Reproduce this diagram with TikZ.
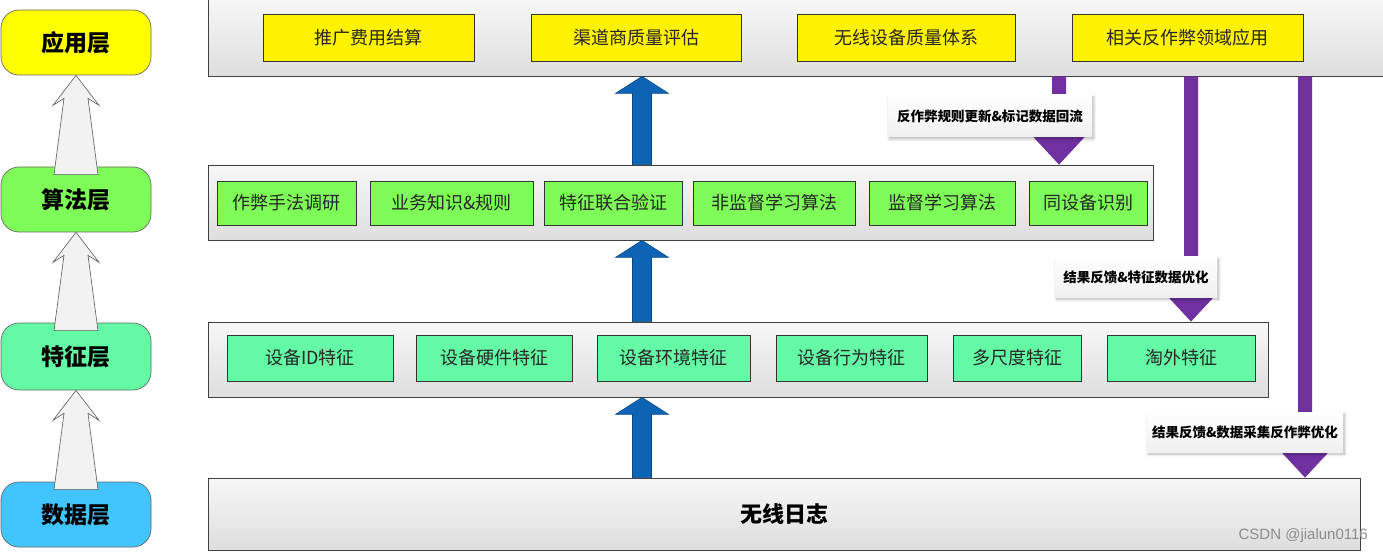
\documentclass[tikz,border=0pt]{standalone}
\usepackage{fontspec}
\setmainfont{Liberation Sans}
\newfontfamily\cjk{Noto Sans CJK SC}
\usetikzlibrary{shadows,shadows.blur,calc}
\definecolor{bluearr}{RGB}{14,100,180}
\definecolor{bluearrd}{RGB}{10,70,130}
\definecolor{purp}{RGB}{112,48,160}
\definecolor{algG}{RGB}{126,252,88}
\definecolor{featG}{RGB}{100,250,165}
\definecolor{dataB}{RGB}{66,196,255}
\definecolor{layY}{RGB}{255,255,0}
\newcommand\bluearrow[2]{%
  \filldraw[fill=bluearr, draw=bluearrd, line width=0.6pt] let \p1=(#1), \p2=(#2) in
  (\x1-9.5pt,\y1) -- (\x1-9.5pt,\y2-17pt) -- (\x1-26.5pt,\y2-17pt) -- (\x1,\y2) --
  (\x1+26.5pt,\y2-17pt) -- (\x1+9.5pt,\y2-17pt) -- (\x1+9.5pt,\y1) -- cycle;}
\newcommand\purparrow[2]{%
  \fill[purp] let \p1=(#1), \p2=(#2) in
  (\x1-7pt,\y1) -- (\x1+7pt,\y1) -- (\x1+7pt,\y2+28pt) -- (\x1+26pt,\y2+28pt) --
  (\x1,\y2) -- (\x1-26pt,\y2+28pt) -- (\x1-7pt,\y2+28pt) -- cycle;}
\newcommand\hollowarrow[2]{%
  \filldraw[fill=black!5, draw=black!65, line width=0.6pt] let \p1=(#1), \p2=(#2) in
  (\x2,\y2) -- (\x2-23pt,\y2-30pt) -- (\x2-12pt,\y2-23pt) -- (\x2-22pt,\y1) --
  (\x2+22pt,\y1) -- (\x2+12pt,\y2-23pt) -- (\x2+23pt,\y2-30pt) -- cycle;}
\begin{document}
\begin{tikzpicture}[x=1pt,y=-1pt,
  panel/.style={draw=black!75, line width=0.8pt, top color=white!97!black, bottom color=white!87!black, inner sep=0pt},
  item/.style={draw=black!80, line width=0.8pt, inner sep=0pt, font=\cjk\fontsize{18}{20}\selectfont, text=black!85},
  ybox/.style={item, fill=yellow, minimum height=47},
  gbox/.style={item, fill=algG, minimum height=44},
  fbox/.style={item, fill=featG, minimum height=46},
  layer/.style={draw=black!60, line width=0.7pt, rounded corners=18pt, minimum width=150, inner sep=0pt,
    font=\cjk\bfseries\fontsize{23}{26}\selectfont},
  tag/.style={top color=white, bottom color=white!94!black, inner sep=0pt, font=\cjk\bfseries\fontsize{13.5}{15}\selectfont,
    blur shadow={shadow xshift=1.5pt, shadow yshift=-2pt, shadow blur radius=3pt, shadow blur steps=8, shadow opacity=30}}]
\useasboundingbox (0,0) rectangle (1383,553);

% panels
\node[panel, minimum width=1177, minimum height=77] (top) at (796.5,37.5) {};
\node[panel, minimum width=945, minimum height=75] (alg) at (680.5,202.5) {};
\node[panel, minimum width=1060, minimum height=75] (feat) at (738,359.5) {};
\node[panel, minimum width=1152, minimum height=72, font=\cjk\bfseries\fontsize{22}{24}\selectfont] (data) at (784,514) {无线日志};

% application boxes
\node[ybox, minimum width=211] (ap1) at (368.5,37.5) {推广费用结算};
\node[ybox, minimum width=210] (ap2) at (636,37.5) {渠道商质量评估};
\node[ybox, minimum width=218] (ap3) at (906,37.5) {无线设备质量体系};
\node[ybox, minimum width=231] (ap4) at (1187.5,37.5) {相关反作弊领域应用};

% algorithm boxes
\node[gbox, minimum width=139] (a1) at (286.5,203) {作弊手法调研};
\node[gbox, minimum width=163] (a2) at (451.5,203) {业务知识\&规则};
\node[gbox, minimum width=138] (a3) at (613,203) {特征联合验证};
\node[gbox, minimum width=162] (a4) at (774,203) {非监督学习算法};
\node[gbox, minimum width=146] (a5) at (942,203) {监督学习算法};
\node[gbox, minimum width=118] (a6) at (1088,203) {同设备识别};

% feature boxes
\node[fbox, minimum width=166] (f1) at (310,358) {设备ID特征};
\node[fbox, minimum width=156] (f2) at (494,358) {设备硬件特征};
\node[fbox, minimum width=153] (f3) at (673.5,358) {设备环境特征};
\node[fbox, minimum width=151] (f4) at (851.5,358) {设备行为特征};
\node[fbox, minimum width=128] (f5) at (1017,358) {多尺度特征};
\node[fbox, minimum width=148] (f6) at (1181,358) {淘外特征};

% layer labels
\node[layer, fill=layY, minimum height=65] (L1) at (76,42.5) {应用层};
\node[layer, fill=algG, minimum height=65] (L2) at (76,199.5) {算法层};
\node[layer, fill=featG, minimum height=67] (L3) at (76,356.5) {特征层};
\node[layer, fill=dataB, minimum height=65] (L4) at (76,514.5) {数据层};

% hollow arrows between layers
\hollowarrow{[yshift=-8pt]L2.north}{L1.south}
\hollowarrow{[yshift=-8pt]L3.north}{L2.south}
\hollowarrow{[yshift=-8pt]L4.north}{L3.south}

% blue arrows
\coordinate (bx) at (642,0);
\bluearrow{alg.north -| bx}{top.south -| bx}
\bluearrow{feat.north -| bx}{alg.south -| bx}
\bluearrow{data.north -| bx}{feat.south -| bx}

% purple feedback arrows
\coordinate (px1) at (1059,0);
\coordinate (px2) at (1191,0);
\coordinate (px3) at (1305,0);
\purparrow{top.south -| px1}{alg.north -| px1}
\purparrow{top.south -| px2}{feat.north -| px2}
\purparrow{top.south -| px3}{data.north -| px3}

% tags
\node[tag, minimum width=204, minimum height=42] (t1) at (990,116) {反作弊规则更新\&标记数据回流};
\node[tag, minimum width=162, minimum height=40] (t2) at (1136,277) {结果反馈\&特征数据优化};
\node[tag, minimum width=196, minimum height=40] (t3) at (1245,432) {结果反馈\&数据采集反作弊优化};

% watermark
\node[anchor=east, inner sep=0pt, text=black!45, font=\fontsize{15}{17}\selectfont] (wm) at (1368,536) {CSDN @jialun0116};
\end{tikzpicture}
\end{document}
